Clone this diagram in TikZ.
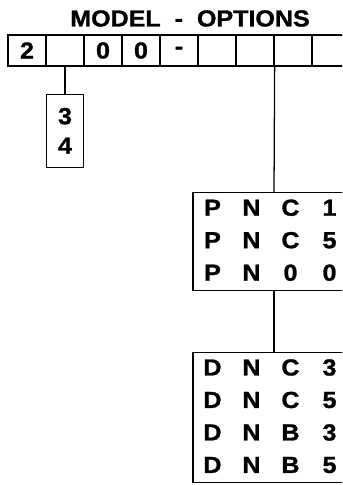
\documentclass[tikz,border=0pt]{standalone}
\usepackage{fontspec}
\setmainfont{Liberation Sans}[FakeStretch=1.08,BoldFeatures={FakeBold=1.2}]
\usepackage{array}
\usetikzlibrary{positioning}
\renewcommand{\arraystretch}{1.1}
\setlength{\tabcolsep}{0pt}

\begin{document}
\begin{tikzpicture}[x=0.025cm,y=-0.025cm,
        hdr/.style={font=\bfseries\fontsize{16.5}{21}\selectfont,inner sep=0pt},
        cell/.style={draw,line width=0.9pt,minimum width=0.95cm,minimum height=0.775cm,
                     inner sep=0pt,font=\bfseries\fontsize{16.5}{21}\selectfont},
        optbox/.style={draw,line width=0.9pt,inner sep=0pt,align=center,
                       font=\bfseries\fontsize{16.5}{21}\selectfont},
        ln/.style={line width=0.9pt}]
  \clip (0,0) rectangle (342,485);
  \node[hdr] (title) at (190,18.5) {MODEL~~-~~OPTIONS};
  \foreach \t [count=\i] in {2,{},0,0,-,{},{},{},{}}
    \node[cell] (c\i) at ({38*\i-11},50.5) {\t};
  \node[optbox,minimum width=0.94cm,minimum height=1.825cm] (opt2) at (65,130.8) {3\\4};
  \node[optbox,minimum width=3.875cm,minimum height=2.45cm] (pnc) at (274,241.7)
    {\begin{tabular}{@{}*{4}{w{c}{0.975cm}}@{\hspace{0.15cm}}}
      P & N & C & 1\\ P & N & C & 5\\ P & N & 0 & 0
     \end{tabular}};
  \node[optbox,minimum width=3.875cm,minimum height=3.25cm] (dnc) at (274,417.7)
    {\begin{tabular}{@{}*{4}{w{c}{0.975cm}}@{\hspace{0.15cm}}}
      D & N & C & 3\\ D & N & C & 5\\ D & N & B & 3\\ D & N & B & 5
     \end{tabular}};
  \draw[ln] (c2.south) -- (opt2.north);
  \draw[ln] (c7.south east) -- (pnc.north);
  \draw[ln] (pnc.south) -- (dnc.north);
\end{tikzpicture}
\end{document}
